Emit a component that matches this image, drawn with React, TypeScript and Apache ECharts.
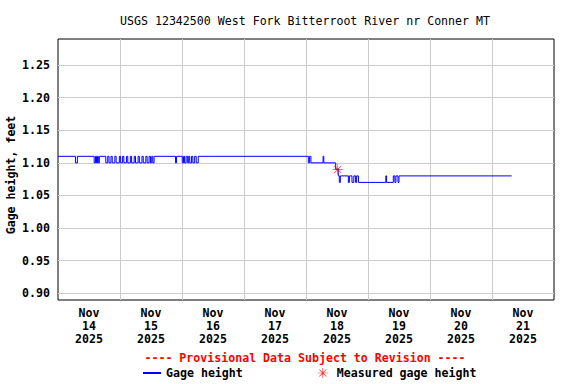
import React, { useEffect, useRef } from "react";
import * as echarts from "echarts";

const TITLE = "USGS 12342500 West Fork Bitterroot River nr Conner MT";
const PROVISIONAL = "---- Provisional Data Subject to Revision ----";
const Y_NAME = "Gage height, feet";
const SERIES_GAGE = "Gage height";
const SERIES_MEASURED = "Measured gage height";

const dayLabels = [
  "Nov\n14\n2025",
  "Nov\n15\n2025",
  "Nov\n16\n2025",
  "Nov\n17\n2025",
  "Nov\n18\n2025",
  "Nov\n19\n2025",
  "Nov\n20\n2025",
  "Nov\n21\n2025",
];

// [hours since 2025-11-14 00:00, gage height ft]; each value holds until the next point
const gageHeight: [number, number][] = [
  [0, 1.11], [6.75, 1.1], [7.5, 1.11],
  [14.0, 1.1], [14.5, 1.11], [14.9, 1.1], [15.3, 1.11], [15.6, 1.1], [16.0, 1.11],
  [18.5, 1.1], [19.25, 1.11], [19.75, 1.1], [20.5, 1.11], [21.0, 1.1], [22.0, 1.11],
  [22.5, 1.1], [23.75, 1.11], [24.25, 1.1], [25.0, 1.11], [25.5, 1.1], [26.5, 1.11],
  [27.0, 1.1], [28.0, 1.11], [28.5, 1.1], [29.5, 1.11], [30.0, 1.1], [31.0, 1.11],
  [31.5, 1.1], [32.5, 1.11], [33.0, 1.1], [34.0, 1.11], [34.5, 1.1], [35.25, 1.11],
  [35.8, 1.1], [36.3, 1.11], [36.7, 1.1], [37.2, 1.11],
  [45.5, 1.1], [45.9, 1.11],
  [48.1, 1.1], [48.6, 1.11], [49.0, 1.1], [49.6, 1.11], [50.2, 1.1], [50.6, 1.11],
  [51.0, 1.1], [51.7, 1.11], [52.2, 1.1], [52.9, 1.11], [53.5, 1.1], [54.3, 1.11],
  [96.9, 1.1], [97.4, 1.11], [97.9, 1.1], [102.6, 1.11], [102.9, 1.1],
  [107.5, 1.09], [108.5, 1.08], [108.9, 1.07], [109.3, 1.08],
  [112.4, 1.07], [112.8, 1.08], [113.8, 1.07], [114.5, 1.08], [115.2, 1.07], [115.6, 1.08],
  [116.3, 1.07], [126.9, 1.08], [127.2, 1.07],
  [129.8, 1.08], [130.4, 1.07], [130.8, 1.08], [131.6, 1.07], [132.0, 1.08],
  [175.6, 1.08],
];

const measuredGageHeight: [number, number][] = [[108.3, 1.09]];

const X_HOURS_MIN = 0;
const X_HOURS_MAX = 192;
const Y_MIN = 0.8897;
const Y_MAX = 1.2899;

const FONT = "'DejaVu Sans Mono', 'Liberation Mono', monospace";

const ASTERISK =
  "path://M0,9.3L20,9.3L20,10.7L0,10.7Z" +
  "M9.3,0L10.7,0L10.7,20L9.3,20Z" +
  "M2.4,3.4L3.4,2.4L17.6,16.6L16.6,17.6Z" +
  "M16.6,2.4L17.6,3.4L3.4,17.6L2.4,16.6Z" +
  "M7,10A3,3 0 1,1 13,10A3,3 0 1,1 7,10Z";

export default function App() {
  const ref = useRef<HTMLDivElement>(null);

  useEffect(() => {
    if (!ref.current) return;
    const chart = echarts.init(ref.current, undefined, { renderer: "svg" });
    chart.setOption({
      animation: false,
      backgroundColor: "#ffffff",
      title: [
        {
          text: TITLE,
          left: 305,
          textAlign: "center",
          top: 15,
          padding: 0,
          textStyle: { fontFamily: FONT, fontSize: 11.6, fontWeight: "normal", color: "#000" },
        },
        {
          text: PROVISIONAL,
          left: 305,
          textAlign: "center",
          top: 352,
          padding: 0,
          textStyle: { fontFamily: FONT, fontSize: 11.6, fontWeight: "bold", color: "#ff0000" },
        },
      ],
      legend: {
        left: 142,
        top: 367,
        padding: 0,
        itemWidth: 18,
        itemHeight: 10,
        itemGap: 75,
        textStyle: { fontFamily: FONT, fontSize: 11.6, fontWeight: "bold", color: "#000" },
        data: [
          {
            name: SERIES_GAGE,
            itemStyle: { color: "rgba(0,0,0,0)", borderWidth: 0, opacity: 0 },
          },
          { name: SERIES_MEASURED },
        ],
      },
      grid: {
        left: 58,
        right: 22,
        top: 39,
        bottom: 84,
        show: true,
        containLabel: false,
        outerBoundsMode: "none",
        borderColor: "#000",
        borderWidth: 1,
        backgroundColor: "transparent",
      },
      xAxis: [
        {
          type: "category",
          data: dayLabels,
          boundaryGap: true,
          axisLine: { show: false },
          axisTick: { show: false },
          axisLabel: {
            interval: 0,
            margin: 6,
            fontFamily: FONT,
            fontSize: 11.6,
            fontWeight: "bold",
            color: "#000",
            lineHeight: 13,
          },
          splitLine: {
            show: true,
            interval: 0,
            showMinLine: false,
            showMaxLine: false,
            lineStyle: { color: "#cccccc", width: 1 },
          },
        },
        {
          type: "value",
          min: X_HOURS_MIN,
          max: X_HOURS_MAX,
          show: false,
        },
      ],
      yAxis: {
        type: "value",
        min: Y_MIN,
        max: Y_MAX,
        splitNumber: 8,
        minInterval: 0.05,
        maxInterval: 0.05,
        name: Y_NAME,
        nameLocation: "middle",
        nameMoveOverlap: false,
        nameGap: 41,
        nameTextStyle: {
          fontFamily: FONT,
          fontSize: 11.6,
          fontWeight: "bold",
          color: "#000",
          padding: [0, 11, 0, 0],
        },
        axisLine: { show: false },
        axisTick: { show: false },
        axisLabel: {
          margin: 8,
          showMinLabel: false,
          showMaxLabel: false,
          fontFamily: FONT,
          fontSize: 11.6,
          fontWeight: "bold",
          color: "#000",
          formatter: (v: number) => v.toFixed(2),
        },
        splitLine: {
          show: true,
          showMinLine: false,
          showMaxLine: false,
          lineStyle: { color: "#cccccc", width: 1 },
        },
      },
      series: [
        {
          name: SERIES_GAGE,
          type: "line",
          xAxisIndex: 1,
          yAxisIndex: 0,
          step: "end",
          symbol: "none",
          data: gageHeight,
          color: "#0000ff",
          lineStyle: { color: "#0000ff", width: 1 },
          z: 3,
        },
        {
          name: SERIES_MEASURED,
          type: "scatter",
          xAxisIndex: 1,
          yAxisIndex: 0,
          symbol: ASTERISK,
          symbolSize: 10,
          symbolKeepAspect: true,
          data: measuredGageHeight,
          itemStyle: { color: "#ff0000" },
          z: 4,
        },
      ],
    });
    return () => chart.dispose();
  }, []);

  return (
    <div
      ref={ref}
      style={{ position: "fixed", left: 0, top: 0, width: 576, height: 384 }}
    />
  );
}
